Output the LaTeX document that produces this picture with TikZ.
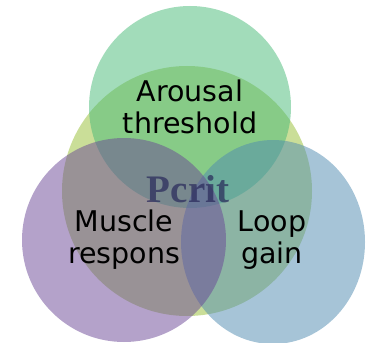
\documentclass[tikz,border=0pt]{standalone}
\usepackage{fontspec}
\setmainfont{DejaVu Sans}
\newfontfamily\pcritfont{Liberation Serif}
\definecolor{vennyellow}{RGB}{150,190,50}
\definecolor{venngreen}{RGB}{70,185,118}
\definecolor{vennblue}{RGB}{78,138,176}
\definecolor{vennpurple}{RGB}{106,70,150}
\definecolor{pcritcolor}{RGB}{40,40,90}
\tikzset{
  venn/.style={fill opacity=0.5, draw=none},
  vennlabel/.style={align=center, font=\fontsize{28.5}{32}\selectfont, text=black}
}

\begin{document}
\begin{tikzpicture}[x=1pt, y=-1pt]
			%%%%% START %%%%%
			\useasboundingbox (0, 0) rectangle (366, 342);
			
			\fill[venn, vennyellow] (187, 191) circle (125);
			\fill[venn, venngreen] (190, 107) circle (101);
			\fill[venn, vennblue] (273, 242) ellipse (92 and 102);
			\fill[venn, vennpurple] (124, 240) circle (102);
			
			\node[anchor=base, text=pcritcolor, text opacity=0.7, font=\pcritfont\bfseries\fontsize{39}{39}\selectfont] (pcrit) at (188, 202) {Pcrit};
			
			\node[vennlabel] (arousal) at (190, 107) {Arousal\\threshold};
			\node[vennlabel] (muscle) at (124, 240) {Muscle\\respons};
			\node[vennlabel] (loop) at (272, 240) {Loop\\gain};
			
			%%%%% END %%%%%
		\end{tikzpicture}
\end{document}
